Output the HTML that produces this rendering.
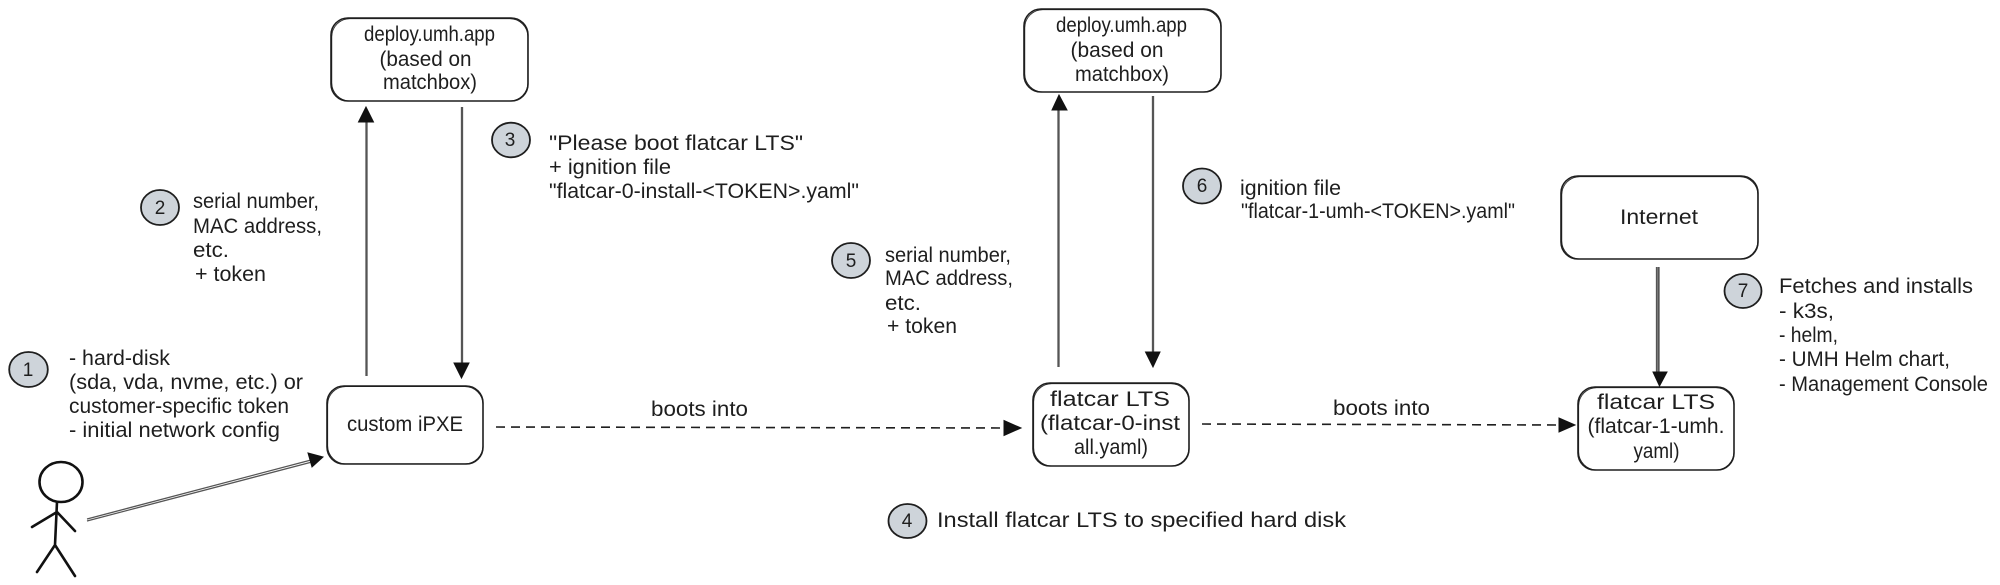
<!DOCTYPE html>
<html lang="en">
<head>
<meta charset="utf-8">
<title>Diagram</title>
<style>
html,body{margin:0;padding:0;background:#fff;width:2000px;height:585px;overflow:hidden}
svg{display:block}
text{font-family:"Liberation Sans",sans-serif;font-size:21px;fill:#1e1e1e}
text.n{font-size:19px}
.b{fill:#fff;stroke:#1e1e1e;stroke-width:1.6}
.o{fill:none;stroke:#1e1e1e;stroke-width:.8}
.l{fill:none;stroke:#1e1e1e;stroke-width:1.3}
.g{fill:none;stroke:#555;stroke-width:1.3}
.d{fill:none;stroke:#1e1e1e;stroke-width:1.6;stroke-dasharray:9 6}
.c{fill:#ced4da;stroke:#1e1e1e;stroke-width:1.8}
.p{fill:none;stroke:#111;stroke-width:2.6;stroke-linecap:round}
.h{fill:#111;stroke:#111;stroke-width:1}
</style>
</head>
<body>
<svg width="2000" height="585" viewBox="0 0 2000 585" xmlns="http://www.w3.org/2000/svg">

<!-- boxes -->
<rect class="b" x="331" y="18" width="197" height="83" rx="17"/>
<rect class="o" x="331.8" y="18.7" width="196" height="82.2" rx="18"/>
<rect class="b" x="327" y="386" width="156" height="78" rx="17"/>
<rect class="o" x="327.7" y="386.6" width="155.2" height="77.2" rx="18"/>
<rect class="b" x="1024" y="9" width="197" height="83" rx="17"/>
<rect class="o" x="1024.8" y="9.7" width="196" height="82.2" rx="18"/>
<rect class="b" x="1033" y="383" width="156" height="83" rx="17"/>
<rect class="o" x="1033.7" y="383.7" width="155.2" height="82.2" rx="18"/>
<rect class="b" x="1561" y="176" width="197" height="83" rx="17"/>
<rect class="o" x="1561.8" y="176.7" width="196" height="82.2" rx="18"/>
<rect class="b" x="1578" y="387" width="156" height="83" rx="17"/>
<rect class="o" x="1578.7" y="387.7" width="155.2" height="82.2" rx="18"/>

<!-- circles -->
<ellipse class="c" cx="28.5" cy="369.5" rx="19.3" ry="17.5"/>
<ellipse class="c" cx="160" cy="207.5" rx="19" ry="17.5"/>
<ellipse class="c" cx="511" cy="140" rx="19" ry="17.3"/>
<ellipse class="c" cx="907.5" cy="521" rx="19" ry="17"/>
<ellipse class="c" cx="851" cy="260.5" rx="19" ry="17.5"/>
<ellipse class="c" cx="1202" cy="186" rx="19" ry="17.5"/>
<ellipse class="c" cx="1743" cy="291" rx="18.5" ry="17"/>

<!-- stick figure -->
<ellipse class="p" cx="61" cy="482" rx="21.5" ry="20"/>
<path class="p" d="M57 502 L55 545 M57 512 L32 527 M57 512 L75 531 M55 545 L37 572 M55 545 L75 576"/>

<!-- connectors -->
<path class="g" d="M87 519 L311 460 M87 521 L312 462"/>
<path class="h" d="M323 457 L308 453 L312 467 Z"/>

<path class="g" d="M366 376 L366 118 M367 376 L367 118"/>
<path class="h" d="M366 107 L358.5 122 L373.5 122 Z"/>

<path class="g" d="M461.5 107 L461.5 365 M462.5 107 L462.5 365"/>
<path class="h" d="M461.5 378 L454 363 L469 363 Z"/>

<path class="d" d="M496 427 L1004 428"/>
<path class="h" d="M1021 428 L1004 420.5 L1004 435.5 Z"/>

<path class="g" d="M1058 367 L1058 108 M1059 367 L1059 108"/>
<path class="h" d="M1059 95 L1052 110 L1067 110 Z"/>

<path class="g" d="M1152.5 96 L1152.5 354 M1153.5 96 L1153.5 354"/>
<path class="h" d="M1153 367 L1145.5 352 L1160 352 Z"/>

<path class="d" d="M1202 424 L1559 425"/>
<path class="h" d="M1575 425 L1559 418 L1559 432 Z"/>

<path class="g" d="M1656.5 267 L1656.5 374 M1658 267 L1658 374 M1659 267 L1659 374"/>
<path class="h" d="M1659.5 386 L1653 372 L1667 372 Z"/>

<!-- box labels -->
<text x="364" y="41" textLength="131" lengthAdjust="spacingAndGlyphs">deploy.umh.app</text>
<text x="379.5" y="66" textLength="92" lengthAdjust="spacingAndGlyphs">(based on</text>
<text x="383" y="89" textLength="94" lengthAdjust="spacingAndGlyphs">matchbox)</text>

<text x="347" y="431" textLength="116" lengthAdjust="spacingAndGlyphs">custom iPXE</text>

<text x="1056" y="32" textLength="131" lengthAdjust="spacingAndGlyphs">deploy.umh.app</text>
<text x="1070.5" y="57" textLength="93" lengthAdjust="spacingAndGlyphs">(based on</text>
<text x="1075" y="81" textLength="94" lengthAdjust="spacingAndGlyphs">matchbox)</text>

<text x="1050" y="406" textLength="120" lengthAdjust="spacingAndGlyphs">flatcar LTS</text>
<text x="1040" y="430" textLength="140" lengthAdjust="spacingAndGlyphs">(flatcar-0-inst</text>
<text x="1074" y="454" textLength="74" lengthAdjust="spacingAndGlyphs">all.yaml)</text>

<text x="1620" y="224" textLength="78" lengthAdjust="spacingAndGlyphs">Internet</text>

<text x="1597" y="409" textLength="118" lengthAdjust="spacingAndGlyphs">flatcar LTS</text>
<text x="1587.5" y="433" textLength="137" lengthAdjust="spacingAndGlyphs">(flatcar-1-umh.</text>
<text x="1633.5" y="458" textLength="46" lengthAdjust="spacingAndGlyphs">yaml)</text>

<!-- connector labels -->
<text x="651" y="416" textLength="97" lengthAdjust="spacingAndGlyphs">boots into</text>
<text x="1333" y="415" textLength="97" lengthAdjust="spacingAndGlyphs">boots into</text>

<!-- circle digits -->
<text class="n" x="28" y="376" text-anchor="middle">1</text>
<text class="n" x="160" y="214" text-anchor="middle">2</text>
<text class="n" x="510" y="146" text-anchor="middle">3</text>
<text class="n" x="907" y="527" text-anchor="middle">4</text>
<text class="n" x="851" y="267" text-anchor="middle">5</text>
<text class="n" x="1202" y="192" text-anchor="middle">6</text>
<text class="n" x="1743" y="297" text-anchor="middle">7</text>

<!-- note 1 -->
<text x="69" y="365" textLength="101" lengthAdjust="spacingAndGlyphs">- hard-disk</text>
<text x="69" y="389" textLength="234" lengthAdjust="spacingAndGlyphs">(sda, vda, nvme, etc.) or</text>
<text x="69" y="413" textLength="220" lengthAdjust="spacingAndGlyphs">customer-specific token</text>
<text x="69" y="437" textLength="211" lengthAdjust="spacingAndGlyphs">- initial network config</text>

<!-- note 2 -->
<text x="193" y="208" textLength="126" lengthAdjust="spacingAndGlyphs">serial number,</text>
<text x="193" y="233" textLength="129" lengthAdjust="spacingAndGlyphs">MAC address,</text>
<text x="193" y="257" textLength="36" lengthAdjust="spacingAndGlyphs">etc.</text>
<text x="195" y="281" textLength="71" lengthAdjust="spacingAndGlyphs">+ token</text>

<!-- note 3 -->
<text x="549" y="150" textLength="254" lengthAdjust="spacingAndGlyphs">"Please boot flatcar LTS"</text>
<text x="549" y="174" textLength="122" lengthAdjust="spacingAndGlyphs">+ ignition file</text>
<text x="549" y="198" textLength="310" lengthAdjust="spacingAndGlyphs">"flatcar-0-install-&lt;TOKEN&gt;.yaml"</text>

<!-- note 4 -->
<text x="937" y="527" textLength="409" lengthAdjust="spacingAndGlyphs">Install flatcar LTS to specified hard disk</text>

<!-- note 5 -->
<text x="885" y="262" textLength="126" lengthAdjust="spacingAndGlyphs">serial number,</text>
<text x="885" y="285" textLength="128" lengthAdjust="spacingAndGlyphs">MAC address,</text>
<text x="885" y="310" textLength="36" lengthAdjust="spacingAndGlyphs">etc.</text>
<text x="887" y="333" textLength="70" lengthAdjust="spacingAndGlyphs">+ token</text>

<!-- note 6 -->
<text x="1240" y="195" textLength="101" lengthAdjust="spacingAndGlyphs">ignition file</text>
<text x="1241" y="218" textLength="274" lengthAdjust="spacingAndGlyphs">"flatcar-1-umh-&lt;TOKEN&gt;.yaml"</text>

<!-- note 7 -->
<text x="1779" y="293" textLength="194" lengthAdjust="spacingAndGlyphs">Fetches and installs</text>
<text x="1779" y="318" textLength="55" lengthAdjust="spacingAndGlyphs">- k3s,</text>
<text x="1779" y="342" textLength="59" lengthAdjust="spacingAndGlyphs">- helm,</text>
<text x="1779" y="366" textLength="171" lengthAdjust="spacingAndGlyphs">- UMH Helm chart,</text>
<text x="1779" y="391" textLength="209" lengthAdjust="spacingAndGlyphs">- Management Console</text>
</svg>
</body>
</html>
